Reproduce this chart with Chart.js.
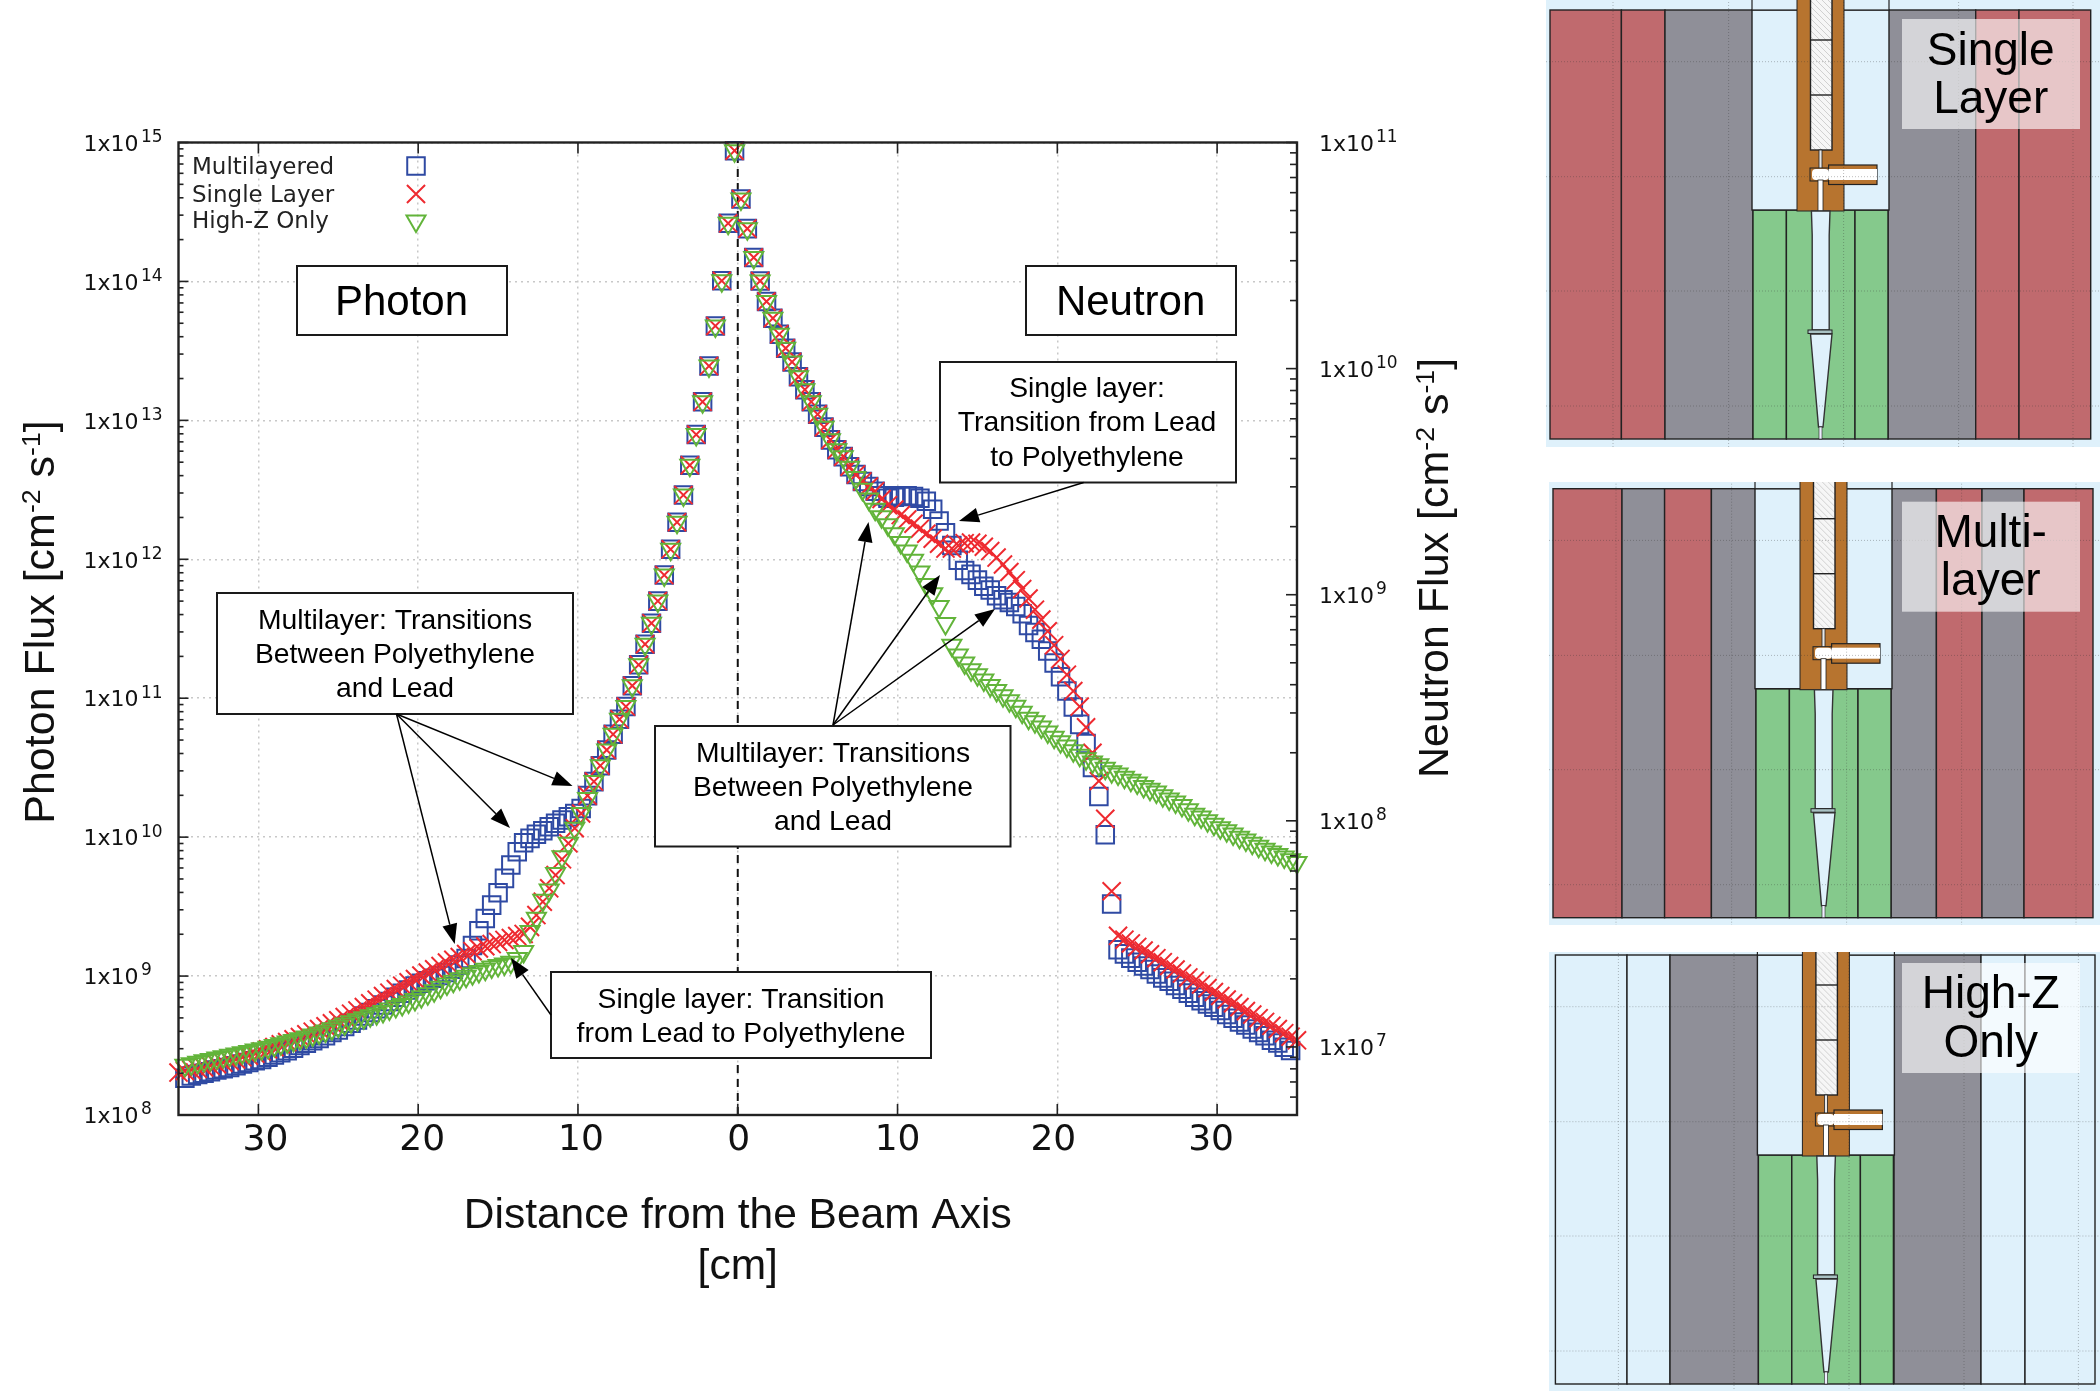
<!DOCTYPE html>
<html>
<head>
<meta charset="utf-8">
<title>Photon and neutron flux</title>
<script src="https://cdn.jsdelivr.net/npm/chart.js"></script>
<style>
    html, body { margin: 0; padding: 0; background: #fff; }
    canvas { display: block; }
</style>
</head>
<body>
<canvas id="fluxChart" width="2100" height="1391"></canvas>
<script>
// distance from the beam axis, photon side then neutron side
const photonX = [
    -35, -34.6, -34.2, -33.8, -33.4, -33, -32.6, -32.2, -31.8, -31.4,
    -31, -30.6, -30.2, -29.8, -29.4, -29, -28.6, -28.2, -27.8, -27.4,
    -27, -26.6, -26.2, -25.8, -25.4, -25, -24.6, -24.2, -23.8, -23.4,
    -23, -22.6, -22.2, -21.8, -21.4, -21, -20.6, -20.2, -19.8, -19.4,
    -19, -18.6, -18.2, -17.8, -17.4, -17, -16.6, -16.2, -15.8, -15.4,
    -15, -14.6, -14.2, -13.8, -13.4, -13, -12.6, -12.2, -11.8, -11.4,
    -11, -10.6, -10.2, -9.8, -9.4, -9, -8.6, -8.2, -7.8, -7.4,
    -7, -6.6, -6.2, -5.8, -5.4, -5, -4.6, -4.2, -3.8, -3.4,
    -3, -2.6, -2.2, -1.8, -1.4, -1, -0.6, -0.2
];
const neutronX = [
    0.2, 0.6, 1, 1.4, 1.8, 2.2, 2.6, 3, 3.4, 3.8,
    4.2, 4.6, 5, 5.4, 5.8, 6.2, 6.6, 7, 7.4, 7.8,
    8.2, 8.6, 9, 9.4, 9.8, 10.2, 10.6, 11, 11.4, 11.8,
    12.2, 12.6, 13, 13.4, 13.8, 14.2, 14.6, 15, 15.4, 15.8,
    16.2, 16.6, 17, 17.4, 17.8, 18.2, 18.6, 19, 19.4, 19.8,
    20.2, 20.6, 21, 21.4, 21.8, 22.2, 22.6, 23, 23.4, 23.8,
    24.2, 24.6, 25, 25.4, 25.8, 26.2, 26.6, 27, 27.4, 27.8,
    28.2, 28.6, 29, 29.4, 29.8, 30.2, 30.6, 31, 31.4, 31.8,
    32.2, 32.6, 33, 33.4, 33.8, 34.2, 34.6, 35
];

const photonMultilayered = [
    null, 1.84e8, 1.91e8, 1.96e8, 2.0e8, 2.05e8, 2.11e8, 2.15e8, 2.2e8, 2.26e8,
    2.33e8, 2.39e8, 2.46e8, 2.51e8, 2.6e8, 2.7e8, 2.81e8, 2.9e8, 3.02e8, 3.16e8,
    3.28e8, 3.43e8, 3.56e8, 3.72e8, 3.92e8, 4.09e8, 4.33e8, 4.57e8, 4.83e8, 5.16e8,
    5.46e8, 5.82e8, 6.19e8, 6.55e8, 7.03e8, 7.52e8, 7.94e8, 8.47e8, 8.87e8, 9.27e8,
    9.64e8, 1.01e9, 1.06e9, 1.12e9, 1.2e9, 1.34e9, 1.66e9, 2.12e9, 2.6e9, 3.24e9,
    3.98e9, 5.05e9, 6.31e9, 7.85e9, 9.12e9, 9.8e9, 1.05e10, 1.11e10, 1.19e10, 1.26e10,
    1.33e10, 1.4e10, 1.48e10, 1.61e10, 1.99e10, 2.51e10, 3.27e10, 4.24e10, 5.5e10, 7.05e10,
    8.71e10, 1.23e11, 1.74e11, 2.45e11, 3.47e11, 5.0e11, 7.7e11, 1.18e12, 1.85e12, 2.9e12,
    4.75e12, 7.9e12, 1.36e13, 2.46e13, 4.78e13, 1.01e14, 2.62e14, 8.73e14
];
const photonSingle = [
    2.02e8, 2.07e8, 2.11e8, 2.15e8, 2.2e8, 2.26e8, 2.32e8, 2.38e8, 2.45e8, 2.51e8,
    2.6e8, 2.67e8, 2.76e8, 2.86e8, 2.97e8, 3.08e8, 3.23e8, 3.35e8, 3.51e8, 3.64e8,
    3.81e8, 3.98e8, 4.16e8, 4.35e8, 4.57e8, 4.8e8, 5.07e8, 5.36e8, 5.66e8, 5.98e8,
    6.37e8, 6.76e8, 7.18e8, 7.59e8, 8.07e8, 8.53e8, 9.02e8, 9.53e8, 1.01e9, 1.06e9,
    1.12e9, 1.18e9, 1.25e9, 1.31e9, 1.37e9, 1.44e9, 1.51e9, 1.58e9, 1.64e9, 1.7e9,
    1.76e9, 1.82e9, 1.88e9, 1.94e9, 2.01e9, 2.26e9, 2.75e9, 3.43e9, 4.28e9, 5.33e9,
    6.92e9, 9.02e9, 1.16e10, 1.48e10, 1.99e10, 2.51e10, 3.27e10, 4.24e10, 5.5e10, 7.05e10,
    8.71e10, 1.23e11, 1.74e11, 2.45e11, 3.47e11, 5.0e11, 7.7e11, 1.18e12, 1.85e12, 2.9e12,
    4.75e12, 7.9e12, 1.36e13, 2.46e13, 4.78e13, 1.01e14, 2.62e14, 8.73e14
];
const photonHighZ = [
    null, 2.28e8, 2.34e8, 2.4e8, 2.46e8, 2.51e8, 2.57e8, 2.63e8, 2.69e8, 2.75e8,
    2.81e8, 2.87e8, 2.94e8, 3.0e8, 3.08e8, 3.17e8, 3.26e8, 3.35e8, 3.44e8, 3.54e8,
    3.64e8, 3.77e8, 3.89e8, 4.03e8, 4.18e8, 4.35e8, 4.52e8, 4.7e8, 4.85e8, 5.01e8,
    5.19e8, 5.36e8, 5.57e8, 5.79e8, 6.03e8, 6.25e8, 6.5e8, 6.79e8, 7.11e8, 7.46e8,
    7.85e8, 8.3e8, 8.77e8, 9.16e8, 9.57e8, 9.95e8, 1.04e9, 1.08e9, 1.12e9, 1.16e9,
    1.19e9, 1.22e9, 1.26e9, 1.34e9, 1.5e9, 2.09e9, 2.61e9, 3.52e9, 4.17e9, 5.48e9,
    7.23e9, 9.02e9, 1.16e10, 1.48e10, 1.9e10, 2.51e10, 3.27e10, 4.24e10, 5.5e10, 7.05e10,
    8.71e10, 1.23e11, 1.74e11, 2.45e11, 3.47e11, 5.0e11, 7.7e11, 1.18e12, 1.85e12, 2.9e12,
    4.75e12, 7.9e12, 1.36e13, 2.46e13, 4.78e13, 1.01e14, 2.62e14, 8.73e14
];

const neutronMultilayered = [
    5.62e10, 4.16e10, 3.1e10, 2.44e10, 1.98e10, 1.67e10, 1.42e10, 1.23e10, 1.07e10, 9.2e9,
    8.07e9, 7.13e9, 6.28e9, 5.51e9, 4.84e9, 4.38e9, 4.08e9, 3.68e9, 3.4e9, 3.17e9,
    3.01e9, 2.87e9, 2.74e9, 2.67e9, 2.7e9, 2.74e9, 2.74e9, 2.72e9, 2.67e9, 2.59e9,
    2.39e9, 2.12e9, 1.88e9, 1.65e9, 1.42e9, 1.28e9, 1.23e9, 1.16e9, 1.09e9, 1.05e9,
    9.89e8, 9.5e8, 9.23e8, 8.87e8, 8.24e8, 7.31e8, 6.81e8, 6.35e8, 5.64e8, 4.99e8,
    4.34e8, 3.75e8, 3.19e8, 2.67e8, 2.2e8, 1.72e8, 1.28e8, 8.67e7, 4.29e7, 2.69e7,
    2.58e7, 2.47e7, 2.37e7, 2.28e7, 2.2e7, 2.1e7, 2.02e7, 1.95e7, 1.87e7, 1.8e7,
    1.73e7, 1.66e7, 1.6e7, 1.55e7, 1.5e7, 1.45e7, 1.39e7, 1.34e7, 1.29e7, 1.25e7,
    1.2e7, 1.16e7, 1.12e7, 1.07e7, 1.04e7, 9.97e6, 9.64e6, null
];
const neutronSingle = [
    5.62e10, 4.16e10, 3.1e10, 2.44e10, 1.98e10, 1.67e10, 1.42e10, 1.23e10, 1.07e10, 9.2e9,
    8.07e9, 7.13e9, 6.28e9, 5.51e9, 4.84e9, 4.38e9, 4.08e9, 3.68e9, 3.4e9, 3.17e9,
    3.01e9, 2.87e9, 2.65e9, 2.49e9, 2.38e9, 2.25e9, 2.15e9, 2.06e9, 1.96e9, 1.86e9,
    1.77e9, 1.68e9, 1.6e9, 1.6e9, 1.65e9, 1.69e9, 1.7e9, 1.68e9, 1.63e9, 1.56e9,
    1.46e9, 1.36e9, 1.26e9, 1.16e9, 1.06e9, 9.62e8, 8.59e8, 7.76e8, 6.89e8, 5.98e8,
    5.2e8, 4.43e8, 3.75e8, 3.2e8, 2.59e8, 2.0e8, 1.5e8, 1.02e8, 4.88e7, 3.1e7,
    2.98e7, 2.87e7, 2.77e7, 2.67e7, 2.57e7, 2.47e7, 2.37e7, 2.28e7, 2.2e7, 2.11e7,
    2.03e7, 1.96e7, 1.89e7, 1.82e7, 1.75e7, 1.68e7, 1.62e7, 1.56e7, 1.5e7, 1.44e7,
    1.39e7, 1.34e7, 1.29e7, 1.24e7, 1.2e7, 1.15e7, 1.11e7, 1.07e7
];
const neutronHighZ = [
    5.62e10, 4.16e10, 3.1e10, 2.44e10, 1.98e10, 1.67e10, 1.42e10, 1.23e10, 1.07e10, 9.2e9,
    8.07e9, 7.13e9, 6.28e9, 5.51e9, 4.84e9, 4.38e9, 4.08e9, 3.66e9, 3.3e9, 2.93e9,
    2.65e9, 2.39e9, 2.21e9, 2.04e9, 1.86e9, 1.7e9, 1.56e9, 1.42e9, 1.26e9, 1.11e9,
    1.01e9, 8.87e8, 7.46e8, 5.98e8, 5.41e8, 4.99e8, 4.66e8, 4.43e8, 4.2e8, 3.97e8,
    3.77e8, 3.57e8, 3.4e8, 3.21e8, 3.02e8, 2.84e8, 2.74e8, 2.6e8, 2.47e8, 2.34e8,
    2.24e8, 2.14e8, 2.04e8, 1.95e8, 1.88e8, 1.82e8, 1.77e8, 1.71e8, 1.65e8, 1.61e8,
    1.56e8, 1.51e8, 1.47e8, 1.42e8, 1.38e8, 1.34e8, 1.29e8, 1.25e8, 1.21e8, 1.17e8,
    1.12e8, 1.07e8, 1.04e8, 1.0e8, 9.66e7, 9.33e7, 9.04e7, 8.75e7, 8.47e7, 8.22e7,
    7.96e7, 7.71e7, 7.48e7, 7.28e7, 7.1e7, 6.92e7, 6.73e7, 6.55e7
];

// axis ticks
const xTicks = [-30, -20, -10, 0, 10, 20, 30];
const xLabelShift = [7, 4, 3, 1, 0, -4, -6];
const photonDecades = [8, 9, 10, 11, 12, 13, 14, 15];
const neutronDecades = [6, 7, 8, 9, 10, 11];
const beamAxisX = [0, 0];
const beamAxisY = [1e8, 1e15];

const BLUE = '#2f4aa3';
const RED = '#ee2a30';
const GREEN = '#62b43a';
const PANEL_RED = '#c06a6e';
const PANEL_GRAY = '#8f8f98';
const PANEL_BLUE = '#dff1fb';
const PANEL_GREEN = '#85c98c';
const PANEL_BROWN = '#b7742f';
const SANS = '"Liberation Sans", Arial, sans-serif';
const DEJAVU = '"DejaVu Sans", sans-serif';

const series = [
    { label: 'Multilayered', color: BLUE, pointStyle: 'rect', radius: 12.4, rotation: 0, order: 3 },
    { label: 'Single Layer', color: RED, pointStyle: 'crossRot', radius: 12.8, rotation: 0, order: 2 },
    { label: 'High-Z Only', color: GREEN, pointStyle: 'triangle', radius: 11, rotation: 180, order: 1 }
];

function makeDataset(info, xs, ys, axis) {
    return {
        label: info.label,
        data: xs.map((x, i) => ({ x: x, y: ys[i] })),
        yAxisID: axis,
        order: info.order,
        clip: false,
        showLine: false,
        pointStyle: info.pointStyle,
        pointRadius: info.radius,
        pointRotation: info.rotation,
        pointBorderColor: info.color,
        pointBackgroundColor: 'transparent',
        pointBorderWidth: 2
    };
}

function logTicks(decades, min, max) {
    const ticks = [];
    decades.forEach(d => {
        for (let m = 1; m <= 9; m++) {
            const value = m * Math.pow(10, d);
            if (value >= min && value <= max) {
                ticks.push({ value: value, major: m === 1 });
            }
        }
    });
    return ticks;
}

function drawExponents(ctx, scale, x) {
    // the library prints 1x10, the power goes up beside it
    ctx.fillStyle = '#111';
    ctx.font = '17px ' + DEJAVU;
    ctx.textAlign = 'left';
    ctx.textBaseline = 'middle';
    scale.ticks.forEach(t => {
        if (t.major) {
            ctx.fillText(String(Math.round(Math.log10(t.value))), x, scale.getPixelForValue(t.value) - 5);
        }
    });
}

function drawRuns(ctx, runs, cx, cy, size) {
    // rotated axis title with raised exponents
    ctx.save();
    ctx.translate(cx, cy);
    ctx.rotate(-Math.PI / 2);
    ctx.fillStyle = '#111';
    ctx.textBaseline = 'alphabetic';
    ctx.textAlign = 'left';
    let total = 0;
    runs.forEach(r => {
        ctx.font = (r[1] ? size * 0.62 : size) + 'px ' + SANS;
        total += ctx.measureText(r[0]).width;
    });
    let pos = -total / 2;
    runs.forEach(r => {
        ctx.font = (r[1] ? size * 0.62 : size) + 'px ' + SANS;
        ctx.fillText(r[0], pos, r[1] ? size * 0.02 : size * 0.36);
        pos += ctx.measureText(r[0]).width;
    });
    ctx.restore();
}

function drawBox(ctx, x0, y0, x1, y1, lines, size) {
    ctx.fillStyle = '#fff';
    ctx.fillRect(x0, y0, x1 - x0, y1 - y0);
    ctx.strokeStyle = '#1a1a1a';
    ctx.lineWidth = 2;
    ctx.setLineDash([]);
    ctx.strokeRect(x0, y0, x1 - x0, y1 - y0);
    ctx.fillStyle = '#000';
    ctx.font = size + 'px ' + SANS;
    ctx.textAlign = 'center';
    ctx.textBaseline = 'alphabetic';
    lines.forEach(l => ctx.fillText(l[0], l[1], l[2]));
}

function drawArrow(ctx, x0, y0, x1, y1) {
    const angle = Math.atan2(y1 - y0, x1 - x0);
    const len = 20;
    const half = 7.5;
    const bx = x1 - len * Math.cos(angle);
    const by = y1 - len * Math.sin(angle);
    ctx.strokeStyle = '#000';
    ctx.fillStyle = '#000';
    ctx.lineWidth = 1.5;
    ctx.setLineDash([]);
    ctx.beginPath();
    ctx.moveTo(x0, y0);
    ctx.lineTo(bx, by);
    ctx.stroke();
    ctx.beginPath();
    ctx.moveTo(x1, y1);
    ctx.lineTo(bx - half * Math.sin(angle), by + half * Math.cos(angle));
    ctx.lineTo(bx + half * Math.sin(angle), by - half * Math.cos(angle));
    ctx.closePath();
    ctx.fill();
}

// the three shield cross sections on the right
const panels = [
    {
        bg: [1546, 0, 554, 447], dx: 0, dy: 0,
        columns: [[1550, 1621.4, PANEL_RED], [1621.4, 1665, PANEL_RED], [1665, 1753, PANEL_GRAY], [1888, 1975.7, PANEL_GRAY], [1975.7, 2019, PANEL_RED], [2019, 2090.7, PANEL_RED]],
        caption: [19, [['Single', 65], ['Layer', 113]]]
    },
    {
        bg: [1549, 482, 551, 443], dx: 3, dy: 478.7,
        columns: [[1550, 1619, PANEL_RED], [1619, 1661.6, PANEL_GRAY], [1661.6, 1708.4, PANEL_RED], [1708.4, 1753, PANEL_GRAY], [1888, 1933.4, PANEL_GRAY], [1933.4, 1979, PANEL_RED], [1979, 2021, PANEL_GRAY], [2021, 2090, PANEL_RED]],
        caption: [501.7, [['Multi-', 546.7], ['layer', 595]]]
    },
    {
        bg: [1549, 952, 551, 439], dx: 5.4, dy: 945,
        columns: [[1550, 1621.6, PANEL_BLUE], [1621.6, 1664.6, PANEL_BLUE], [1664.6, 1753, PANEL_GRAY], [1888.6, 1975.6, PANEL_GRAY], [1975.6, 2019.6, PANEL_BLUE], [2019.6, 2089.6, PANEL_BLUE]],
        caption: [963, [['High-Z', 1008], ['Only', 1056.7]]]
    }
];

function rectLine(ctx, x, y, w, h, fill, line) {
    ctx.fillStyle = fill;
    ctx.fillRect(x, y, w, h);
    if (line) {
        ctx.lineWidth = line;
        ctx.strokeStyle = '#222';
        ctx.strokeRect(x, y, w, h);
    }
}

function drawPanel(ctx, p) {
    const top = 10;
    const bottom = 439;
    ctx.save();
    ctx.beginPath();
    ctx.rect(p.bg[0], p.bg[1], p.bg[2], p.bg[3]);
    ctx.clip();
    ctx.fillStyle = PANEL_BLUE;
    ctx.fillRect(p.bg[0], p.bg[1], p.bg[2], p.bg[3]);
    ctx.translate(p.dx, p.dy);

    p.columns.forEach(c => rectLine(ctx, c[0], top, c[1] - c[0], bottom - top, c[2], 1.4));

    // polyethylene blocks under the bore
    [[1753, 1786.4], [1786.4, 1855], [1855, 1888]].forEach(c => rectLine(ctx, c[0], 210, c[1] - c[0], bottom - 210, PANEL_GREEN, 1.4));

    // bore with the beam tube
    rectLine(ctx, 1752, top, 137, 200, PANEL_BLUE, 1.4);
    rectLine(ctx, 1752, -10, 137, 20, PANEL_BLUE, 1.2);
    rectLine(ctx, 1797, -10, 47, 221, PANEL_BROWN, 1);

    // hatched target pieces
    ctx.fillStyle = '#f6f6f6';
    ctx.fillRect(1810.5, -10, 21.5, 160);
    ctx.save();
    ctx.beginPath();
    ctx.rect(1810.5, -10, 21.5, 160);
    ctx.clip();
    ctx.strokeStyle = '#d0d0d0';
    ctx.lineWidth = 1;
    for (let y = -30; y < 170; y += 6) {
        ctx.beginPath();
        ctx.moveTo(1810, y);
        ctx.lineTo(1832, y + 22);
        ctx.stroke();
    }
    ctx.restore();
    ctx.strokeStyle = '#222';
    ctx.lineWidth = 1.4;
    ctx.strokeRect(1810.5, -10, 21.5, 160);
    [40, 95].forEach(y => {
        ctx.beginPath();
        ctx.moveTo(1810.5, y);
        ctx.lineTo(1832, y);
        ctx.stroke();
    });

    // side arm and channel
    rectLine(ctx, 1819, 150, 3, 20, '#e8e8e8', 0.8);
    rectLine(ctx, 1810, 168, 20, 13, PANEL_BROWN, 1);
    rectLine(ctx, 1828.6, 165, 48.4, 19.5, PANEL_BROWN, 1.2);
    rectLine(ctx, 1828.6, 169, 48.4, 11, '#fff');
    ctx.fillStyle = '#fff';
    ctx.beginPath();
    ctx.roundRect(1812, 169, 17, 11, 4);
    ctx.fill();
    rectLine(ctx, 1818, 180, 5, 31, '#fff', 0.8);

    // collimator
    ctx.fillStyle = PANEL_BLUE;
    ctx.strokeStyle = '#333';
    ctx.lineWidth = 1.4;
    ctx.beginPath();
    ctx.moveTo(1811.4, 211);
    ctx.lineTo(1812.2, 235);
    ctx.lineTo(1812.2, 330);
    ctx.lineTo(1829.2, 330);
    ctx.lineTo(1829.2, 235);
    ctx.lineTo(1830, 211);
    ctx.closePath();
    ctx.fill();
    ctx.stroke();
    rectLine(ctx, 1808, 330, 24, 3.5, '#a9c2c4', 1);
    ctx.fillStyle = PANEL_BLUE;
    ctx.strokeStyle = '#333';
    ctx.lineWidth = 1.4;
    ctx.beginPath();
    ctx.moveTo(1810.5, 334);
    ctx.lineTo(1832, 334);
    ctx.lineTo(1823, 427);
    ctx.lineTo(1818.5, 427);
    ctx.closePath();
    ctx.fill();
    ctx.stroke();
    rectLine(ctx, 1819, 427, 3, 12, '#eef', 0.6);

    // faint mesh lines of the plot behind
    ctx.strokeStyle = 'rgba(50,50,50,0.32)';
    ctx.lineWidth = 1;
    ctx.setLineDash([1, 2]);
    [1613, 1728.6, 1843.6, 1958.6, 2073].forEach(x => {
        ctx.beginPath();
        ctx.moveTo(x, -10);
        ctx.lineTo(x, 450);
        ctx.stroke();
    });
    [61.7, 176.7, 291, 406].forEach(y => {
        ctx.beginPath();
        ctx.moveTo(1540, y);
        ctx.lineTo(2100, y);
        ctx.stroke();
    });
    ctx.setLineDash([]);
    ctx.restore();

    // caption
    ctx.fillStyle = 'rgba(255,255,255,0.62)';
    ctx.fillRect(1902, p.caption[0], 178, 110);
    ctx.fillStyle = '#000';
    ctx.font = '46px ' + SANS;
    ctx.textAlign = 'center';
    ctx.textBaseline = 'alphabetic';
    p.caption[1].forEach(l => ctx.fillText(l[0], 1990.7, l[1]));
}

const overlayPlugin = {
    id: 'overlay',
    beforeDraw(chart) {
        // the x labels sit a little closer together than their ticks
        chart.scales.x.getLabelItems().forEach((item, i) => {
            item.options.translation[0] += xLabelShift[i];
        });
        // the y labels hang slightly below their ticks
        [chart.scales.y, chart.scales.y2].forEach(scale => {
            scale.getLabelItems().forEach(item => {
                item.options.translation[1] += 2.5;
            });
        });
    },
    afterDraw(chart) {
        const ctx = chart.ctx;
        const area = chart.chartArea;
        const xScale = chart.scales.x;
        const yLeft = chart.scales.y;
        const yRight = chart.scales.y2;

        // inward tick marks on all four sides
        ctx.save();
        ctx.strokeStyle = '#222';
        ctx.lineWidth = 1.6;
        yLeft.ticks.forEach(t => {
            const py = yLeft.getPixelForValue(t.value);
            ctx.beginPath();
            ctx.moveTo(area.left, py);
            ctx.lineTo(area.left + (t.major ? 10 : 5), py);
            ctx.stroke();
        });
        yRight.ticks.forEach(t => {
            const py = yRight.getPixelForValue(t.value);
            ctx.beginPath();
            ctx.moveTo(area.right, py);
            ctx.lineTo(area.right - (t.major ? 11 : 7), py);
            ctx.stroke();
        });
        xScale.ticks.forEach(t => {
            const px = xScale.getPixelForValue(t.value);
            ctx.beginPath();
            ctx.moveTo(px, area.top);
            ctx.lineTo(px, area.top + 11);
            ctx.moveTo(px, area.bottom);
            ctx.lineTo(px, area.bottom - 11);
            ctx.stroke();
        });
        ctx.lineWidth = 2.4;
        ctx.strokeRect(area.left, area.top, area.right - area.left, area.bottom - area.top);
        drawExponents(ctx, yLeft, 141);
        drawExponents(ctx, yRight, 1376);
        ctx.restore();

        // legend inside the plot, labels left and symbols right
        ctx.save();
        [[168.5, 166], [196, 194], [222.5, 221]].forEach((y, i) => {
            ctx.fillStyle = '#222';
            ctx.font = '23px ' + DEJAVU;
            ctx.textAlign = 'left';
            ctx.textBaseline = 'middle';
            ctx.fillText(series[i].label, 192, y[0]);
            ctx.strokeStyle = series[i].color;
            ctx.lineWidth = 2;
            ctx.fillStyle = 'transparent';
            Chart.helpers.drawPoint(ctx, {
                pointStyle: series[i].pointStyle,
                radius: series[i].radius,
                rotation: series[i].rotation,
                borderWidth: 2
            }, 416, y[1]);
        });
        ctx.restore();

        ctx.save();
        drawRuns(ctx, [['Photon Flux [cm', 0], ['-2', 1], [' s', 0], ['-1', 1], [']', 0]], 39, 622, 43);
        drawRuns(ctx, [['Neutron Flux [cm', 0], ['-2', 1], [' s', 0], ['-1', 1], [']', 0]], 1433, 568, 43);

        drawBox(ctx, 297, 266, 507, 335, [['Photon', 401.5, 315]], 42);
        drawBox(ctx, 1026, 266, 1236, 335, [['Neutron', 1130.6, 315]], 42);
        drawBox(ctx, 940, 362, 1236, 482.5, [['Single layer:', 1087, 397], ['Transition from Lead', 1087, 431], ['to Polyethylene', 1087, 466]], 28.3);
        drawBox(ctx, 217, 593, 573, 714, [['Multilayer: Transitions', 395, 629], ['Between Polyethylene', 395, 663], ['and Lead', 395, 697]], 28.3);
        drawBox(ctx, 655, 726, 1010.5, 846.5, [['Multilayer: Transitions', 833, 762], ['Between Polyethylene', 833, 796], ['and Lead', 833, 830]], 28.3);
        drawBox(ctx, 551, 972, 931, 1058, [['Single layer: Transition', 741, 1008], ['from Lead to Polyethylene', 741, 1042]], 28.3);

        drawArrow(ctx, 396.5, 714, 572.5, 786);
        drawArrow(ctx, 396.5, 714, 510, 828);
        drawArrow(ctx, 396.5, 714, 454.7, 944);
        drawArrow(ctx, 551, 1015, 511, 958);
        drawArrow(ctx, 833, 725, 868.5, 522);
        drawArrow(ctx, 833, 725, 940, 575);
        drawArrow(ctx, 833, 725, 995, 609);
        drawArrow(ctx, 1083.6, 482.5, 959, 521);

        panels.forEach(p => drawPanel(ctx, p));
        ctx.restore();
    }
};

const chartData = {
    datasets: [
        makeDataset(series[0], photonX, photonMultilayered, 'y'),
        makeDataset(series[1], photonX, photonSingle, 'y'),
        makeDataset(series[2], photonX, photonHighZ, 'y'),
        makeDataset(series[0], neutronX, neutronMultilayered, 'y2'),
        makeDataset(series[1], neutronX, neutronSingle, 'y2'),
        makeDataset(series[2], neutronX, neutronHighZ, 'y2'),
        {
            label: 'Beam axis',
            data: beamAxisX.map((x, i) => ({ x: x, y: beamAxisY[i] })),
            yAxisID: 'y',
            order: 4,
            showLine: true,
            pointRadius: 0,
            borderColor: '#111',
            borderWidth: 2,
            borderDash: [8, 6]
        }
    ]
};

const chartConfig = {
    type: 'scatter',
    data: chartData,
    plugins: [overlayPlugin],
    options: {
        responsive: false,
        animation: false,
        devicePixelRatio: 1,
        events: [],
        layout: { padding: { top: 142.5, left: 0, right: 0, bottom: 0 } },
        plugins: {
            legend: { display: false },
            tooltip: { enabled: false }
        },
        scales: {
            x: {
                type: 'linear',
                min: -35,
                max: 35,
                afterBuildTicks: scale => {
                    scale.ticks = xTicks.map(v => ({ value: v }));
                },
                afterFit: scale => {
                    scale.height = 276;
                },
                grid: { color: '#c8c8c8', lineWidth: 1.5, drawTicks: false },
                border: { display: false, dash: [2, 4] },
                ticks: {
                    autoSkip: false,
                    maxRotation: 0,
                    padding: 4,
                    color: '#111',
                    font: { family: DEJAVU, size: 36 },
                    callback: value => String(Math.abs(value))
                },
                title: {
                    display: true,
                    text: ['Distance from the Beam Axis', '[cm]'],
                    color: '#111',
                    font: { family: SANS, size: 42.5, lineHeight: 1.2 },
                    padding: { top: 0, bottom: 98 }
                }
            },
            y: {
                type: 'logarithmic',
                position: 'left',
                min: 1e8,
                max: 1e15,
                afterBuildTicks: scale => {
                    scale.ticks = logTicks(photonDecades, 1e8, 1e15);
                },
                afterFit: scale => {
                    scale.width = 178.5;
                },
                grid: {
                    color: ctx => (ctx.tick && ctx.tick.major ? '#c8c8c8' : 'transparent'),
                    lineWidth: 1.5,
                    drawTicks: false
                },
                border: { display: false, dash: [2, 4] },
                ticks: {
                    autoSkip: false,
                    padding: 40,
                    color: '#111',
                    font: { family: DEJAVU, size: 22 },
                    callback: (value, index, ticks) => (ticks[index].major ? '1x10' : '')
                }
            },
            y2: {
                type: 'logarithmic',
                position: 'right',
                min: 5e6,
                max: 1e11,
                afterBuildTicks: scale => {
                    scale.ticks = logTicks(neutronDecades, 5e6, 1e11);
                },
                afterFit: scale => {
                    scale.width = 803;
                },
                grid: { display: false, drawTicks: false },
                border: { display: false },
                ticks: {
                    autoSkip: false,
                    padding: 22,
                    color: '#111',
                    font: { family: DEJAVU, size: 22 },
                    callback: (value, index, ticks) => (ticks[index].major ? '1x10' : '')
                }
            }
        }
    }
};

const ctx = document.getElementById('fluxChart').getContext('2d');
new Chart(ctx, chartConfig);
</script>
</body>
</html>
